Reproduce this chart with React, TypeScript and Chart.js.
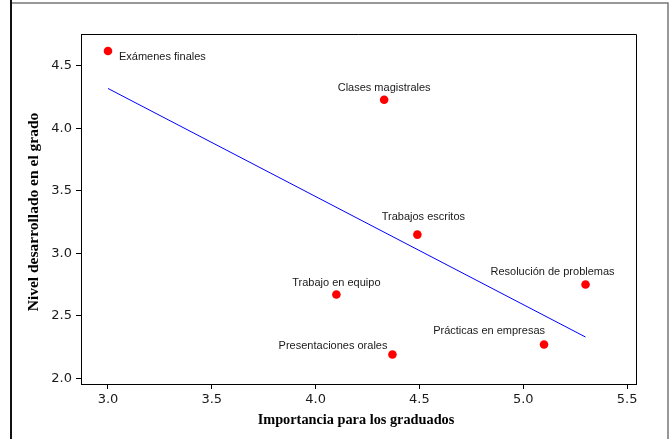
import React, { useEffect, useRef } from "react";
import { Chart, registerables } from "chart.js";

Chart.register(...registerables);

const skillNames = [
  "Exámenes finales",
  "Clases magistrales",
  "Trabajos escritos",
  "Trabajo en equipo",
  "Presentaciones orales",
  "Prácticas en empresas",
  "Resolución de problemas",
];
const importanceValues = [3.0, 4.33, 4.49, 4.1, 4.37, 5.1, 5.3];
const developmentValues = [4.62, 4.23, 3.15, 2.67, 2.19, 2.27, 2.75];

const trendX = [3.0, 5.3];
const trendY = [4.32, 2.33];

const xTickValues = [3.0, 3.5, 4.0, 4.5, 5.0, 5.5];
const yTickValues = [2.0, 2.5, 3.0, 3.5, 4.0, 4.5];

const xTitle = "Importancia para los graduados";
const yTitle = "Nivel desarrollado en el grado";

// label placement (pixel offsets from the point, and text alignment)
const labelPlacement: { dx: number; dy: number; align: CanvasTextAlign }[] = [
  { dx: 11, dy: 6, align: "left" },
  { dx: 0, dy: -12, align: "center" },
  { dx: 6, dy: -18, align: "center" },
  { dx: 0, dy: -12, align: "center" },
  { dx: -5, dy: -9, align: "right" },
  { dx: 1, dy: -14, align: "right" },
  { dx: -33, dy: -13, align: "center" },
];

const decorPlugin = {
  id: "decor",
  beforeDraw(chart: any) {
    const ctx = chart.ctx;
    ctx.save();
    ctx.fillStyle = "#ffffff";
    ctx.fillRect(0, 0, chart.width, chart.height);
    ctx.restore();
  },
  afterDraw(chart: any) {
    const ctx = chart.ctx;
    const { left, right, top, bottom } = chart.chartArea;
    ctx.save();
    // outer frame
    ctx.strokeStyle = "#777";
    ctx.lineWidth = 1.5;
    ctx.beginPath();
    ctx.moveTo(10, 3);
    ctx.lineTo(668, 3);
    ctx.lineTo(668, chart.height);
    ctx.stroke();
    ctx.strokeStyle = "#111";
    ctx.lineWidth = 2;
    ctx.beginPath();
    ctx.moveTo(11, 0);
    ctx.lineTo(11, chart.height);
    ctx.stroke();
    // plot border top/right
    ctx.strokeStyle = "#000";
    ctx.lineWidth = 1;
    ctx.beginPath();
    ctx.moveTo(left, top + 0.5);
    ctx.lineTo(right + 0.5, top + 0.5);
    ctx.lineTo(right + 0.5, bottom);
    ctx.stroke();

    // point labels
    const xs = chart.scales.x;
    const ys = chart.scales.y;
    ctx.fillStyle = "#1a1a1a";
    ctx.font = "11px 'Liberation Sans', Arial, sans-serif";
    ctx.textBaseline = "middle";
    skillNames.forEach((name, i) => {
      const px = xs.getPixelForValue(importanceValues[i]);
      const py = ys.getPixelForValue(developmentValues[i]);
      const p = labelPlacement[i];
      ctx.textAlign = p.align;
      ctx.fillText(name, px + p.dx, py + p.dy);
    });

    // axis titles
    ctx.fillStyle = "#000";
    ctx.textAlign = "center";
    ctx.textBaseline = "middle";
    ctx.font = "bold 14.3px 'Liberation Serif', 'Times New Roman', serif";
    ctx.fillText(xTitle, 356, 420);
    ctx.font = "bold 15.5px 'Liberation Serif', 'Times New Roman', serif";
    ctx.translate(34, 212);
    ctx.rotate(-Math.PI / 2);
    ctx.fillText(yTitle, 0, 0);
    ctx.restore();
  },
};

export default function App() {
  const ref = useRef<HTMLCanvasElement | null>(null);

  useEffect(() => {
    if (!ref.current) return;
    const chart = new Chart(ref.current, {
      type: "scatter",
      data: {
        datasets: [
          {
            type: "line",
            label: "Tendencia",
            data: trendX.map((x, i) => ({ x, y: trendY[i] })),
            borderColor: "#0000ff",
            borderWidth: 1,
            pointRadius: 0,
            fill: false,
          },
          {
            label: "Habilidades",
            data: importanceValues.map((x, i) => ({ x, y: developmentValues[i] })),
            backgroundColor: "#ff0000",
            borderColor: "#ff0000",
            pointRadius: 4.3,
            borderWidth: 0,
          },
        ],
      },
      options: {
        animation: false,
        responsive: false,
        layout: { padding: { left: 0, top: 34, right: 35, bottom: 0 } },
        plugins: {
          legend: { display: false },
          tooltip: { enabled: false },
        },
        scales: {
          x: {
            type: "linear",
            min: 2.87,
            max: 5.543,
            afterBuildTicks: (s: any) => {
              s.ticks = xTickValues.map((v) => ({ value: v }));
            },
            afterFit: (s: any) => {
              s.height = 55;
            },
            grid: {
              drawOnChartArea: false,
              drawTicks: true,
              tickLength: 5,
              color: "#000",
            },
            border: { display: true, color: "#000", width: 1 },
            ticks: {
              padding: 3,
              color: "#1a1a1a",
              font: { family: "'DejaVu Sans', sans-serif", size: 13 },
              callback: (v: any) => Number(v).toFixed(1),
            },
          },
          y: {
            type: "linear",
            min: 1.954,
            max: 4.756,
            afterBuildTicks: (s: any) => {
              s.ticks = yTickValues.map((v) => ({ value: v }));
            },
            afterFit: (s: any) => {
              s.width = 81;
            },
            grid: {
              drawOnChartArea: false,
              drawTicks: true,
              tickLength: 5,
              color: "#000",
            },
            border: { display: true, color: "#000", width: 1 },
            ticks: {
              padding: 4,
              color: "#1a1a1a",
              font: { family: "'DejaVu Sans', sans-serif", size: 13 },
              callback: (v: any) => Number(v).toFixed(1),
            },
          },
        },
      },
      plugins: [decorPlugin],
    });
    return () => chart.destroy();
  }, []);

  return (
    <div style={{ position: "fixed", left: 0, top: 0, width: 671, height: 439 }}>
      <canvas ref={ref} width={671} height={439} style={{ display: "block" }} />
    </div>
  );
}
